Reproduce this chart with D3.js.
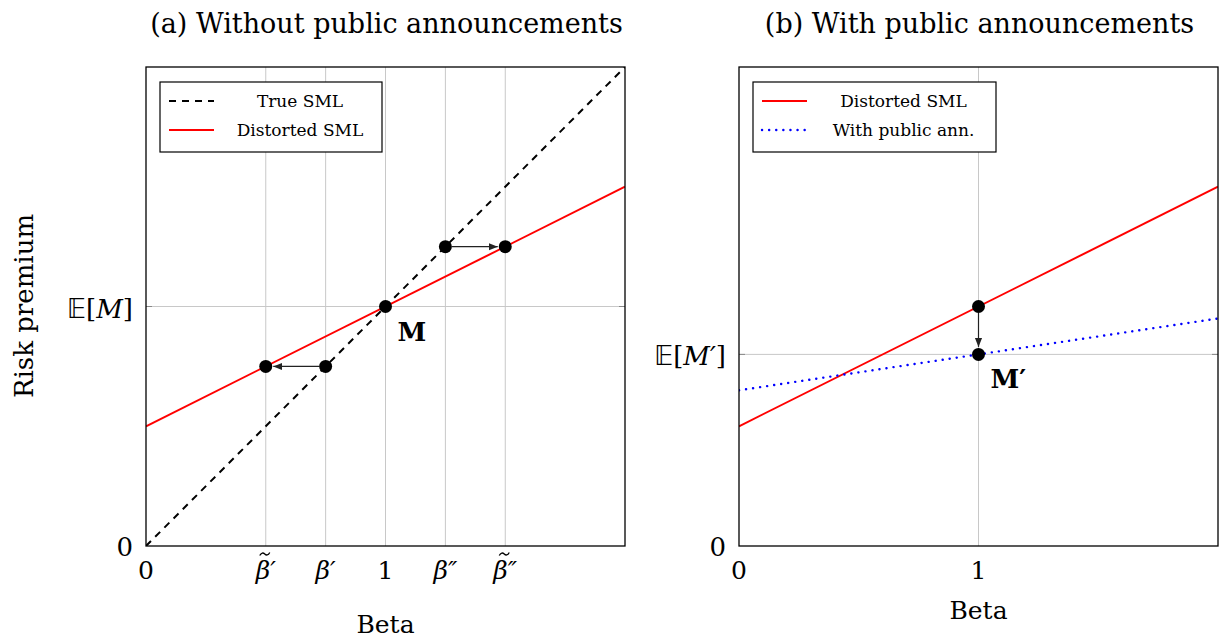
<!DOCTYPE html>
<html>
<head>
<meta charset="utf-8">
<script src="https://cdn.jsdelivr.net/npm/d3@7"></script>
<style>
  body { margin: 0; background: #fff; }
  text { font-family: "DejaVu Serif", "Liberation Serif", serif; fill: #000; }
</style>
</head>
<body>
<script>
// chart values
var trueSML = [[0, 0], [2, 2]];
var distortedSML = [[0, 0.5], [2, 1.5]];
var publicAnn = [[0, 0.65], [2, 0.95]];

var xTicksA = [0, 0.5, 0.75, 1, 1.25, 1.5];
var xLabelsA = ["0", "~β′", "β′", "1", "β″", "~β″"];
var yTicksA = [0, 1];
var yLabelsA = ["0", "E[M]"];

var xTicksB = [0, 1];
var xLabelsB = ["0", "1"];
var yTicksB = [0, 0.8];
var yLabelsB = ["0", "E[M′]"];

var pointsA = [[0.5, 0.75], [0.75, 0.75], [1, 1], [1.25, 1.25], [1.5, 1.25]];
var arrowsA = [[[0.75, 0.75], [0.5, 0.75]], [[1.25, 1.25], [1.5, 1.25]]];
var pointsB = [[1, 1], [1, 0.8]];
var arrowsB = [[[1, 1], [1, 0.8]]];

var svg = d3.select("body").append("svg")
    .attr("width", 1219)
    .attr("height", 638);

var defs = svg.append("defs");
defs.append("marker")
    .attr("id", "arrow")
    .attr("viewBox", "0 0 10 10")
    .attr("refX", 10).attr("refY", 5)
    .attr("markerWidth", 9).attr("markerHeight", 9)
    .attr("markerUnits", "userSpaceOnUse")
    .attr("orient", "auto")
    .append("path")
    .attr("d", "M0,1 L10,5 L0,9 Z")
    .attr("fill", "#222");

function panel(opt) {
    var g = svg.append("g");
    var x = d3.scaleLinear().domain([0, 2]).range([opt.left, opt.left + 479]);
    var y = d3.scaleLinear().domain([0, 2]).range([546, 67]);

    // grid
    g.selectAll(".vgrid").data(opt.xTicks.filter(function(d) { return d > 0; }))
        .enter().append("line")
        .attr("x1", function(d) { return x(d); }).attr("x2", function(d) { return x(d); })
        .attr("y1", y(0)).attr("y2", y(2))
        .attr("stroke", "#c8c8c8").attr("stroke-width", 1);
    g.selectAll(".hgrid").data(opt.yTicks.filter(function(d) { return d > 0; }))
        .enter().append("line")
        .attr("x1", x(0)).attr("x2", x(2))
        .attr("y1", function(d) { return y(d); }).attr("y2", function(d) { return y(d); })
        .attr("stroke", "#c8c8c8").attr("stroke-width", 1);

    // small ticks on the frame
    opt.yTicks.filter(function(d) { return d > 0; }).forEach(function(d) {
        g.append("line").attr("x1", x(0)).attr("x2", x(0) + 6)
            .attr("y1", y(d)).attr("y2", y(d)).attr("stroke", "#888");
        g.append("line").attr("x1", x(2) - 6).attr("x2", x(2))
            .attr("y1", y(d)).attr("y2", y(d)).attr("stroke", "#888");
    });

    var line = d3.line().x(function(d) { return x(d[0]); }).y(function(d) { return y(d[1]); });
    var clip = "clip" + opt.id;
    defs.append("clipPath").attr("id", clip).append("rect")
        .attr("x", x(0)).attr("y", y(2)).attr("width", x(2) - x(0)).attr("height", y(0) - y(2));

    var lines = g.append("g").attr("clip-path", "url(#" + clip + ")");
    opt.series.forEach(function(s) {
        lines.append("path").datum(s.data)
            .attr("d", line)
            .attr("fill", "none")
            .attr("stroke", s.color)
            .attr("stroke-width", s.width)
            .attr("stroke-dasharray", s.dash)
            .attr("stroke-linecap", s.cap || "butt");
    });

    // arrows between points, stopping at circle edges
    var r = 6.5;
    opt.arrows.forEach(function(a) {
        var x1 = x(a[0][0]), y1 = y(a[0][1]), x2 = x(a[1][0]), y2 = y(a[1][1]);
        var len = Math.sqrt((x2 - x1) * (x2 - x1) + (y2 - y1) * (y2 - y1));
        var ux = (x2 - x1) / len, uy = (y2 - y1) / len;
        g.append("line")
            .attr("x1", x1 + ux * r).attr("y1", y1 + uy * r)
            .attr("x2", x2 - ux * (r + 1)).attr("y2", y2 - uy * (r + 1))
            .attr("stroke", "#222").attr("stroke-width", 1.2)
            .attr("marker-end", "url(#arrow)");
    });

    g.selectAll(".pt").data(opt.points).enter().append("circle")
        .attr("cx", function(d) { return x(d[0]); })
        .attr("cy", function(d) { return y(d[1]); })
        .attr("r", r).attr("fill", "#000");

    // frame
    g.append("rect")
        .attr("x", x(0)).attr("y", y(2))
        .attr("width", x(2) - x(0)).attr("height", y(0) - y(2))
        .attr("fill", "none").attr("stroke", "#000").attr("stroke-width", 1.3);

    // x tick labels ("~" prefix means a tilde accent over the beta)
    opt.xTicks.forEach(function(d, i) {
        var lab = opt.xLabels[i];
        var accent = lab.charAt(0) === "~";
        if (accent) lab = lab.slice(1);
        var isNum = /[0-9]/.test(lab);
        g.append("text")
            .attr("x", x(d)).attr("y", 579)
            .attr("text-anchor", "middle")
            .attr("font-size", 25)
            .attr("font-style", isNum ? "normal" : "italic")
            .text(lab);
        if (accent) {
            g.append("path")
                .attr("transform", "translate(" + (x(d) - 1) + ",554)")
                .attr("d", "M-5,1.5 C-3.5,-1.5 -1.5,-1.5 0,0 S3.5,1.5 5,-1.5")
                .attr("fill", "none").attr("stroke", "#000").attr("stroke-width", 1.3);
        }
    });

    // y tick labels
    opt.yTicks.forEach(function(d, i) {
        var lab = opt.yLabels[i];
        var t = g.append("text")
            .attr("x", x(0) - 13)
            .attr("y", y(d) + (d === 0 ? 10 : 11))
            .attr("text-anchor", "end")
            .attr("font-size", 26);
        if (lab === "0") {
            t.text("0");
        } else {
            var m = lab.match(/^E\[(.*)\]$/);
            t.append("tspan").attr("font-family", "DejaVu Sans").attr("font-size", 26).text("𝔼");
            t.append("tspan").text("[");
            t.append("tspan").attr("font-style", "italic").text(m[1]);
            t.append("tspan").text("]");
        }
    });

    // point label
    g.append("text")
        .attr("x", x(opt.mark.at[0]) + 12)
        .attr("y", y(opt.mark.at[1]) + 34)
        .attr("font-size", 26).attr("font-weight", "bold")
        .text(opt.mark.text);

    // axis title and panel title
    g.append("text")
        .attr("x", (x(0) + x(2)) / 2).attr("y", opt.betaY)
        .attr("text-anchor", "middle").attr("font-size", 25)
        .text("Beta");
    g.append("text")
        .attr("x", (x(0) + x(2)) / 2 + 1).attr("y", 33)
        .attr("text-anchor", "middle").attr("font-size", 27)
        .text(opt.title);

    // legend
    var lg = g.append("g").attr("transform", "translate(" + (x(0) + 14) + ",82)");
    lg.append("rect").attr("width", opt.legendW).attr("height", 70)
        .attr("fill", "#fff").attr("stroke", "#000").attr("stroke-width", 1.2);
    opt.series.forEach(function(s, i) {
        var yy = 19 + i * 29;
        lg.append("line").attr("x1", 9).attr("x2", 54).attr("y1", yy).attr("y2", yy)
            .attr("stroke", s.color).attr("stroke-width", s.width)
            .attr("stroke-dasharray", s.dash).attr("stroke-linecap", s.cap || "butt");
        lg.append("text").attr("x", (62 + opt.legendW) / 2 - 2).attr("y", yy + 6)
            .attr("text-anchor", "middle").attr("font-size", 17)
            .text(s.name);
    });
}

panel({
    id: "a", left: 146,
    title: "(a) Without public announcements",
    xTicks: xTicksA, xLabels: xLabelsA, yTicks: yTicksA, yLabels: yLabelsA,
    series: [
        {name: "True SML", data: trueSML, color: "#000", width: 2, dash: "7,6"},
        {name: "Distorted SML", data: distortedSML, color: "#f00", width: 2, dash: null}
    ],
    points: pointsA, arrows: arrowsA,
    mark: {at: [1, 1], text: "M"},
    betaY: 633, legendW: 222
});

panel({
    id: "b", left: 739,
    title: "(b) With public announcements",
    xTicks: xTicksB, xLabels: xLabelsB, yTicks: yTicksB, yLabels: yLabelsB,
    series: [
        {name: "Distorted SML", data: distortedSML, color: "#f00", width: 2, dash: null},
        {name: "With public ann.", data: publicAnn, color: "#00f", width: 2.4, dash: "0.1,7", cap: "round"}
    ],
    points: pointsB, arrows: arrowsB,
    mark: {at: [1, 0.8], text: "M′"},
    betaY: 619, legendW: 243
});

svg.append("text")
    .attr("transform", "translate(33,306) rotate(-90)")
    .attr("text-anchor", "middle").attr("font-size", 26)
    .text("Risk premium");
</script>
</body>
</html>
